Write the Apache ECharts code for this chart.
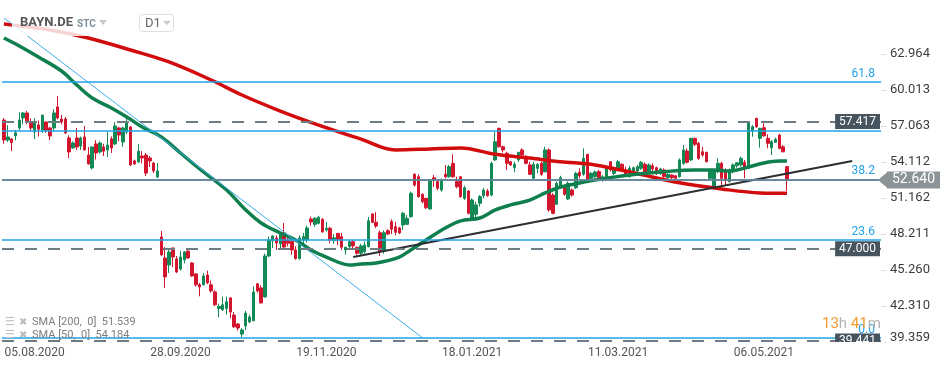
<!DOCTYPE html>
<html><head><meta charset="utf-8">
<script src="https://cdn.jsdelivr.net/npm/echarts@6/dist/echarts.min.js"></script>
<style>html,body{margin:0;padding:0;background:#fff}#c{width:950px;height:368px}</style>
</head><body><div id="c"></div>
<script>
// ---- calendar (trading days, Xetra) ----
const startDate = '2020-07-24';
const holidays = ['2020-12-24','2020-12-25','2020-12-31','2021-01-01','2021-04-02','2021-04-05','2021-05-24'];
const totalSlots = 229;
const tickDates = ['05.08.2020','28.09.2020','19.11.2020','18.01.2021','11.03.2021','06.05.2021'];
const priceTicks = [62.964,60.013,57.063,54.112,51.162,48.211,45.260,42.310,39.359];

// ---- candles ----
const opens = [
57.55,55.91,56.0,56.25,56.9,57.72,58.13,57.39,56.57,57.14,
56.73,57.39,56.9,56.9,58.62,57.63,57.63,56.08,55.26,56.08,
55.42,56.16,54.68,53.62,55.59,54.93,55.34,55.1,56.0,55.59,
56.9,55.75,56.57,56.98,54.2,54.11,54.6,54.68,54.44,54.03,
52.88,47.96,46.24,45.67,47.06,46.16,45.34,46.08,46.8,45.83,
44.93,44.04,44.04,44.85,44.04,43.46,42.1,42.0,42.1,42.97,
41.56,40.83,40.0,40.67,41.0,41.1,44.12,43.79,43.05,46.41,
47.64,47.88,47.39,48.3,47.72,47.6,46.9,46.2,47.72,47.72,
49.44,49.0,49.08,49.41,48.54,48.68,47.66,48.26,47.99,46.9,
47.17,47.58,47.12,46.63,46.75,47.17,49.85,49.17,48.31,46.9,
48.48,49.22,48.8,48.7,48.95,49.0,49.63,53.1,52.9,51.46,
51.13,50.26,52.82,52.5,51.81,53.1,52.9,54.0,52.5,52.9,
51.13,51.73,49.5,49.82,50.72,51.35,51.73,51.4,54.28,56.87,
55.36,54.82,54.13,53.64,54.28,55.1,54.55,53.87,52.77,53.59,
54.0,53.3,55.1,51.4,50.64,52.08,52.08,51.08,51.81,52.0,
53.27,53.1,54.74,52.77,52.9,53.32,52.64,52.82,54.13,53.18,
53.46,53.92,53.46,52.9,53.32,53.37,53.59,53.92,53.32,53.8,
53.64,53.18,53.46,52.82,53.04,52.98,52.9,54.0,55.01,54.28,
56.05,55.64,54.95,54.9,52.77,52.08,53.32,54.0,53.46,52.5,
53.37,53.8,53.87,54.08,53.59,56.65,57.69,56.05,56.92,56.05,
55.28,55.72,56.32,55.36,53.73];
const closes = [
55.91,56.16,55.7,56.5,57.55,58.13,57.47,56.9,57.39,56.8,
57.96,56.73,56.24,58.13,57.72,57.39,56.49,54.93,55.67,55.34,
56.08,55.1,53.95,55.34,54.85,55.67,55.0,55.5,55.26,57.06,
56.32,56.9,57.3,53.87,53.95,55.0,54.44,53.2,54.2,53.38,
53.38,46.5,44.69,46.73,46.32,45.1,46.32,46.73,46.24,44.77,
44.04,43.87,44.77,44.2,43.54,42.4,42.27,42.4,42.65,41.81,
40.6,40.5,40.34,41.73,41.4,43.46,43.54,42.56,46.41,47.72,
48.05,47.47,48.2,47.14,47.45,46.9,46.2,47.88,48.0,48.7,
49.19,49.5,49.58,48.4,48.68,47.72,47.9,47.72,47.12,47.12,
47.58,47.23,46.63,47.23,47.3,49.3,49.17,48.86,46.76,48.31,
48.21,48.6,48.35,48.29,49.9,49.5,51.55,52.22,51.27,50.86,
50.36,52.64,52.64,51.95,52.64,52.9,53.73,52.9,52.08,51.27,
52.0,49.9,51.0,50.59,51.27,51.81,51.35,54.0,55.77,55.36,
55.1,54.0,53.87,53.92,54.9,54.68,54.0,53.1,53.92,53.92,
53.1,55.1,50.18,49.9,52.36,52.82,51.46,52.36,51.4,53.18,
52.98,54.41,52.64,53.18,53.3,52.82,52.9,53.64,53.46,53.54,
54.13,53.46,53.04,53.59,53.64,53.73,54.08,53.18,53.87,53.54,
53.18,53.54,52.9,53.1,52.82,52.77,54.28,55.1,54.08,56.05,
55.56,54.41,54.68,54.13,53.32,53.32,54.0,52.77,52.64,53.46,
53.87,54.05,54.41,53.59,57.36,57.0,57.0,56.87,56.26,55.64,
55.77,55.97,55.23,54.95,52.64];
const lows = [
55.6,55.75,55.0,55.9,56.73,57.2,57.2,56.65,56.0,56.2,
56.5,56.5,55.9,56.65,57.6,57.2,56.4,54.44,55.2,55.1,
55.1,55.05,53.9,53.5,54.3,54.8,54.6,54.52,54.85,55.5,
55.8,55.34,56.4,53.8,53.9,54.05,54.0,52.96,53.7,53.2,
52.8,46.4,43.78,45.0,45.5,45.0,45.2,45.8,46.2,44.7,
43.9,43.1,44.0,44.1,43.4,42.3,41.4,41.9,41.6,41.3,
40.5,40.3,39.76,40.34,40.9,41.05,43.4,42.5,43.0,46.3,
47.06,46.9,46.9,46.9,47.2,46.5,46.1,46.1,47.3,47.5,
48.9,48.8,49.0,48.3,48.4,47.45,47.4,47.3,46.9,46.5,
46.9,46.9,46.5,46.4,46.6,47.1,49.1,48.7,46.4,46.6,
48.1,48.2,48.1,48.2,48.54,48.95,49.54,52.08,51.18,50.72,
50.26,50.2,52.08,51.8,51.68,52.77,52.82,52.82,51.95,51.18,
51.0,49.82,49.44,49.6,50.45,51.13,51.27,51.3,54.2,55.28,
54.9,53.46,53.8,53.27,54.13,54.55,53.92,53.04,52.72,53.18,
52.98,53.3,50.04,49.82,50.59,51.95,51.35,51.0,51.27,51.9,
52.77,52.98,52.5,52.7,52.8,52.77,52.5,52.77,53.32,53.04,
53.32,53.32,52.9,52.82,53.18,53.18,53.46,53.04,53.18,53.37,
53.04,53.04,52.82,52.72,52.72,52.72,52.82,53.87,54.0,54.19,
55.4,54.28,54.55,54.08,52.64,52.0,53.18,52.23,52.23,52.44,
53.18,53.64,53.73,52.77,53.54,56.18,56.92,55.28,56.18,55.23,
54.68,55.7,55.15,54.9,51.73];
const highs = [
57.7,57.14,56.05,56.73,58.2,58.2,58.3,57.7,57.7,57.5,
57.96,57.45,57.0,58.45,59.52,57.96,57.8,56.3,55.8,56.9,
56.2,57.06,55.34,55.4,55.9,55.8,55.6,56.57,56.2,57.39,
57.0,57.0,57.63,57.06,54.3,55.59,55.0,54.85,54.6,54.1,
54.03,48.45,47.15,47.06,47.1,46.4,46.8,46.8,46.9,45.9,
45.0,44.2,45.0,45.2,44.4,43.6,42.5,43.07,43.07,43.0,
41.8,40.9,40.5,41.9,41.6,43.9,44.2,44.0,46.6,47.99,
48.1,48.1,48.3,49.1,48.0,47.8,47.2,48.1,48.3,48.9,
49.63,49.6,49.7,49.5,49.2,48.8,48.2,48.3,48.3,47.17,
47.7,47.75,47.17,47.4,47.6,49.6,49.9,50.0,48.5,48.5,
48.6,49.4,49.2,48.8,50.03,49.76,51.68,53.18,53.1,51.55,
51.18,52.64,53.04,52.64,52.77,53.87,53.87,54.74,52.9,52.95,
52.16,51.81,51.13,50.86,51.4,52.0,51.9,54.13,56.6,56.92,
55.45,54.95,54.2,54.13,54.95,55.23,54.68,54.13,54.13,54.0,
54.13,55.36,55.23,51.55,52.5,52.98,52.23,52.5,51.95,53.3,
53.59,55.23,54.74,53.3,53.4,53.46,53.04,53.73,54.19,53.73,
54.28,54.0,53.73,53.8,53.73,53.87,54.19,54.08,54.0,54.0,
53.73,53.64,53.59,53.18,53.1,53.04,54.41,55.5,55.23,56.1,
56.1,55.77,55.36,54.95,53.46,53.46,54.41,54.13,53.59,53.59,
54.0,54.1,54.55,54.28,57.41,57.14,57.74,56.92,57.28,56.38,
55.91,56.1,56.4,55.5,53.73];

// ---- moving averages: [candle index, value] ----
const sma200 = [[0,65.42],[12,64.93],[22,64.28],[33,63.29],[43,62.31],[54,60.83],[62,59.6],[72,58.29],[82,57.14],[93,55.99],[102,55.1],[111,55.18],[119,55.26],[128,54.74],[137,54.43],[145,54.13],[154,53.87],[166,53.09],[176,52.41],[187,51.9],[197,51.57],[204,51.539]];
const sma50 = [[0,64.27],[4,63.62],[9,62.72],[15,61.57],[19,60.42],[23,59.36],[28,58.54],[32,57.80],[36,56.98],[41,56.16],[46,54.85],[51,53.54],[58,51.81],[63,50.18],[67,49.11],[72,48.29],[76,47.72],[80,46.90],[84,46.32],[90,45.67],[93,45.75],[97,45.83],[103,46.32],[106,46.90],[110,47.72],[115,48.70],[119,49.28],[124,49.52],[128,50.18],[132,50.59],[137,50.99],[141,51.57],[145,52.06],[150,52.39],[154,52.64],[163,53.05],[171,53.29],[180,53.46],[185,53.46],[189,53.37],[193,53.62],[198,54.03],[202,54.19],[204,54.184]];
const sma200Last = 51.539, sma50Last = 54.184;

// ---- drawings ----
const fibPrices = [39.71, 47.72, 52.68, 56.68, 60.69];
const fibLabels = ['0.0', '23.6', '38.2', '', '61.8'];
const levelPrices = [57.417, 47.000, 39.441];
const lastPrice = 52.640;
const downTrend = [[0, 65.92], [109, 39.71]];
const upTrend = [[91, 46.33], [221, 54.19]];

// ---- build ----
function fmt(d){return String(d.getUTCDate()).padStart(2,'0')+'.'+String(d.getUTCMonth()+1).padStart(2,'0')+'.'+d.getUTCFullYear();}
const categories = [];
{ const d = new Date(startDate+'T00:00:00Z');
  while (categories.length < totalSlots) {
    const wd = d.getUTCDay(), iso = d.toISOString().slice(0,10);
    if (wd !== 0 && wd !== 6 && holidays.indexOf(iso) < 0) categories.push(fmt(d));
    d.setUTCDate(d.getUTCDate()+1);
  } }

const GREEN = '#138a56', RED = '#d3152e', BLUE = '#1fa2e8';
const FONT = 'Roboto, sans-serif';
const GRID = {left: 2, right: 69, top: 0, bottom: 24};
const candleData = opens.map((o,i)=>[o, closes[i], lows[i], highs[i]]);
const lowestTick = priceTicks[priceTicks.length-1];

const fibLines = fibPrices.map((p,i)=>({yAxis:p,
  lineStyle:{color:BLUE,width:1.5,type:'solid'},
  label:{show:fibLabels[i]!=='', position:'insideEndTop', formatter:fibLabels[i], color:BLUE, fontSize:12, fontFamily:FONT, distance:[6,2]}}));
const levelLines = levelPrices.map(p=>({yAxis:p,
  lineStyle:{color:'#6f7b83', width:1.8, type:[12,11]},
  label:{show:true, position:'insideEnd', formatter:p.toFixed(3), backgroundColor:'#45545e', color:'#fff', fontSize:12, fontFamily:FONT, padding:[2,4,1,4], distance:[1,0]}}));
const priceLine = {yAxis:lastPrice,
  lineStyle:{color:'#717c84', width:1.5, type:'solid'},
  label:{show:true, position:'end', formatter:lastPrice.toFixed(3), backgroundColor:'#8b9397', color:'#fff', fontSize:14, fontFamily:FONT, padding:[2,5,1,5], distance:6}};

const graphics = [
  {type:'rect', shape:{x:12,y:9,width:172,height:27}, style:{fill:'rgba(255,255,255,0.82)'}, z:50, silent:true},
  {type:'text', x:20, y:23, style:{text:'BAYN.DE', font:'bold 13px Roboto', fill:'#555', verticalAlign:'middle'}, z:51},
  {type:'text', x:77, y:24.5, style:{text:'STC', font:'bold 10px Roboto', fill:'#7f909a', verticalAlign:'middle'}, z:51},
  {type:'polygon', shape:{points:[[99,20],[107,20],[103,25]]}, style:{fill:'#c8c8c8'}, z:51},
  {type:'rect', shape:{x:139.5,y:14.5,width:34,height:17,r:3}, style:{fill:'#fff', stroke:'#dedede', lineWidth:1}, z:51},
  {type:'text', x:145, y:23.5, style:{text:'D1', font:'13px Roboto', fill:'#666', verticalAlign:'middle'}, z:52},
  {type:'polygon', shape:{points:[[163,21],[171,21],[167,25]]}, style:{fill:'#c8c8c8'}, z:52},
  {type:'text', x:5, y:322, style:{text:'☰', font:'11px "DejaVu Sans"', fill:'#bdbdbd', verticalAlign:'middle'}, z:51},
  {type:'text', x:19, y:322, style:{text:'✖', font:'10px "DejaVu Sans"', fill:'#bdbdbd', verticalAlign:'middle'}, z:51},
  {type:'text', x:32, y:322, style:{text:'SMA [200,  0]  '+sma200Last.toFixed(3), font:'11px Roboto', fill:'#7d7d7d', verticalAlign:'middle'}, z:51},
  {type:'text', x:5, y:335, style:{text:'☰', font:'11px "DejaVu Sans"', fill:'#bdbdbd', verticalAlign:'middle'}, z:51},
  {type:'text', x:19, y:335, style:{text:'✖', font:'10px "DejaVu Sans"', fill:'#bdbdbd', verticalAlign:'middle'}, z:51},
  {type:'text', x:32, y:335, style:{text:'SMA [50,  0]  '+sma50Last.toFixed(3), font:'11px Roboto', fill:'#7d7d7d', verticalAlign:'middle'}, z:51},
  {type:'rect', shape:{x:818,y:342,width:66,height:26}, style:{fill:'#fff'}, z:100, zlevel:1, silent:true},
  {type:'text', x:822, y:324, style:{text:'{o|13}{g|h} {o|41}{g|m}', fontSize:15, fontFamily:'Roboto', verticalAlign:'middle',
     rich:{o:{fill:'#f39a2e', fontSize:15, fontFamily:'Roboto'}, g:{fill:'#b3b3b3', fontSize:15, fontFamily:'Roboto'}}}, z:60, zlevel:1}
];

const chart = echarts.init(document.getElementById('c'));
chart.setOption({
  animation:false,
  backgroundColor:'#fff',
  grid:GRID,
  xAxis:{type:'category', data:categories, boundaryGap:true,
    axisLine:{show:false}, axisTick:{show:false}, splitLine:{show:false},
    axisLabel:{interval:(i,v)=>tickDates.indexOf(v)>=0, color:'#555', fontSize:12, fontFamily:FONT, margin:3, hideOverlap:false}},
  yAxis:{type:'value', position:'right', min:39.19, max:67.39, scale:true,
    axisLine:{show:false}, splitLine:{show:false},
    axisTick:{show:true, customValues:priceTicks, length:5, lineStyle:{color:'#dadada'}},
    axisLabel:{customValues:priceTicks, color:'#3d3d3d', fontSize:13, fontFamily:FONT, margin:9,
      formatter:v=>Math.abs(v-lowestTick)<1e-6 ? '{lo|'+v.toFixed(3)+'}' : v.toFixed(3),
      rich:{lo:{color:'#3d3d3d', fontSize:13, fontFamily:FONT, padding:[0,0,9,0]}}}},
  series:[
    {type:'candlestick', data:candleData, barWidth:3, z:2,
      itemStyle:{color:GREEN, color0:RED, borderColor:GREEN, borderColor0:RED, borderWidth:1},
      markLine:{silent:true, symbol:['none','none'], animation:false, z:5,
        data:fibLines.concat(levelLines).concat([priceLine])}},
    {type:'line', data:sma200, smooth:0.35, showSymbol:false, symbol:'none', z:3,
      lineStyle:{color:'#d20c0c', width:3.5}},
    {type:'line', data:sma50, smooth:0.35, showSymbol:false, symbol:'none', z:3,
      lineStyle:{color:'#0f7f4e', width:3.5}},
    {type:'line', data:downTrend, showSymbol:false, symbol:'none', z:4,
      lineStyle:{color:'#3aaeea', width:1}},
    {type:'line', data:upTrend, showSymbol:false, symbol:'none', z:4,
      lineStyle:{color:'#2b2f33', width:2}}
  ],
  graphic:{elements:graphics}
});
const py = chart.convertToPixel({yAxisIndex:0}, lastPrice);
const gx = chart.getWidth() - GRID.right;
chart.setOption({graphic:{elements:graphics.concat([
  {type:'polygon', shape:{points:[[gx-3,py],[gx+7,py-8.5],[gx+7,py+8.5]]}, style:{fill:'#8b9397'}, z:60}
])}});
</script>
</body></html>
